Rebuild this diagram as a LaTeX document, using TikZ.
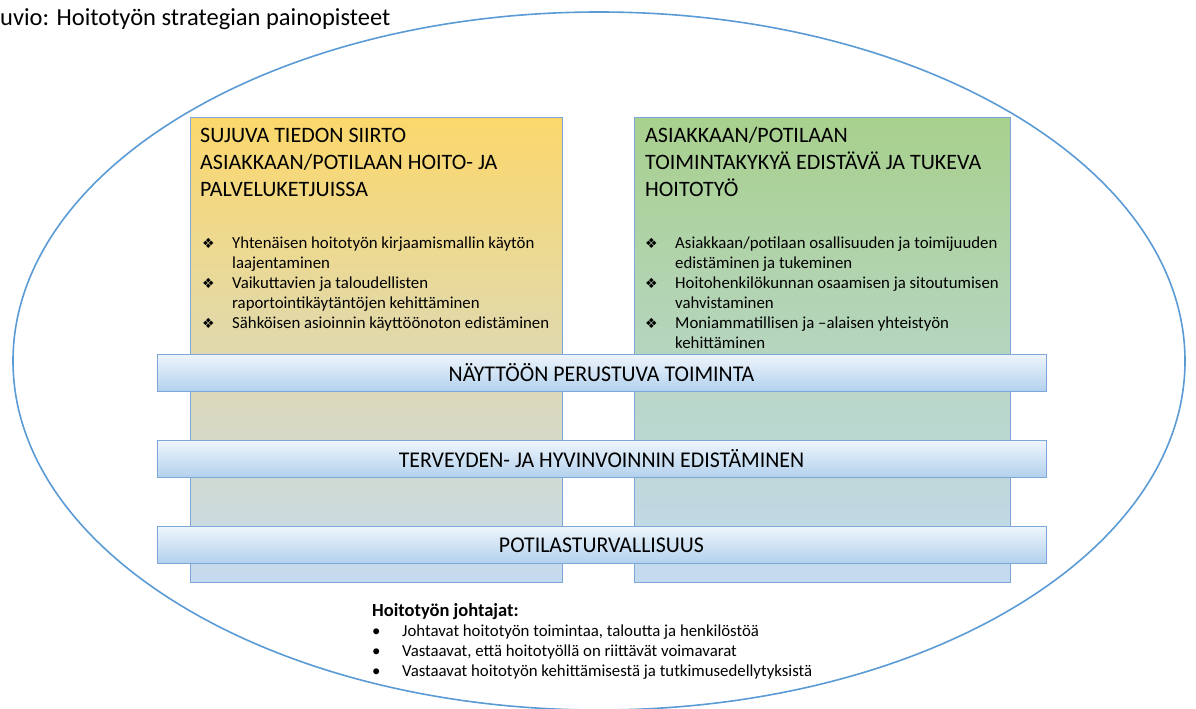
\documentclass[tikz,border=0pt]{standalone}
\usepackage{fontspec}
\setmainfont{Carlito}
\newfontfamily\symfont{DejaVu Sans}
\newfontfamily\bandfont[FakeStretch=0.97]{Carlito}
\usetikzlibrary{shapes.geometric}

\definecolor{rimblue}{HTML}{5B9BD5}
\definecolor{edgeblue}{HTML}{7DA7D9}
\definecolor{topyellow}{HTML}{FCD86C}
\definecolor{topgreen}{HTML}{A8D08D}
\definecolor{footblue}{HTML}{C4DAF0}
\definecolor{bandlight}{HTML}{EEF5FC}
\definecolor{banddeep}{HTML}{B2D0ED}

\newcommand{\dia}{{\symfont\fontsize{14}{20}\selectfont\char"2756}}

\tikzset{
  colbox/.style={draw=edgeblue, line width=0.9pt, anchor=north west,
    minimum height=465pt, inner sep=0pt, bottom color=footblue},
  band/.style={draw=edgeblue, line width=0.9pt, minimum width=889pt,
    minimum height=37pt, inner sep=0pt, top color=bandlight,
    bottom color=banddeep, font=\bandfont\fontsize{22.5}{22.5}\selectfont},
  headtext/.style={anchor=base west, inner sep=0pt,
    font=\fontsize{22}{27}\selectfont},
  itemtext/.style={anchor=base west, inner sep=0pt,
    font=\fontsize{16.8}{20}\selectfont}
}

\begin{document}
\begin{tikzpicture}[x=1pt,y=-1pt]
  \useasboundingbox (0,0) rectangle (1196,709);
  % outer ellipse
  \node[ellipse, draw=rimblue, line width=1.6pt, minimum width=1172pt,
    minimum height=698pt, inner sep=0pt] (frame) at (599,361) {};
  \node[anchor=base west, inner sep=0pt, font=\fontsize{24.5}{24.5}\selectfont]
    (title) at (0,26) {uvio: Hoitotyön strategian painopisteet};

  % the two columns
  \node[colbox, top color=topyellow, minimum width=372pt] (leftcol) at (190,117) {};
  \node[colbox, top color=topgreen, minimum width=376pt] (rightcol) at (634,117) {};

  \node[headtext] (lefthead) at (200,142) {%
    \begin{tabular}[t]{@{}l@{}}
      SUJUVA TIEDON SIIRTO\\
      ASIAKKAAN/POTILAAN HOITO- JA\\
      PALVELUKETJUISSA
    \end{tabular}};
  \node[headtext] (righthead) at (645,142) {%
    \begin{tabular}[t]{@{}l@{}}
      ASIAKKAAN/POTILAAN\\
      TOIMINTAKYKYÄ EDISTÄVÄ JA TUKEVA\\
      HOITOTYÖ
    \end{tabular}};

  \node[itemtext] (leftlist) at (202,248) {%
    \begin{tabular}[t]{@{}p{30pt}@{}l@{}}
      \dia & Yhtenäisen hoitotyön kirjaamismallin käytön\\
           & laajentaminen\\
      \dia & Vaikuttavien ja taloudellisten\\
           & raportointikäytäntöjen kehittäminen\\
      \dia & Sähköisen asioinnin käyttöönoton edistäminen
    \end{tabular}};
  \node[itemtext] (rightlist) at (645,248) {%
    \begin{tabular}[t]{@{}p{30pt}@{}l@{}}
      \dia & Asiakkaan/potilaan osallisuuden ja toimijuuden\\
           & edistäminen ja tukeminen\\
      \dia & Hoitohenkilökunnan osaamisen ja sitoutumisen\\
           & vahvistaminen\\
      \dia & Moniammatillisen ja –alaisen yhteistyön\\
           & kehittäminen
    \end{tabular}};

  % crossing bands
  \node[band] (evidence) at (601.5,373) {NÄYTTÖÖN PERUSTUVA TOIMINTA};
  \node[band] (health) at (601.5,459) {TERVEYDEN- JA HYVINVOINNIN EDISTÄMINEN};
  \node[band] (safety) at (601.5,545) {POTILASTURVALLISUUS};

  % leaders
  \node[itemtext] (leaders) at (372,616) {%
    \begin{tabular}[t]{@{}p{30pt}@{}l@{}}
      \multicolumn{2}{@{}l@{}}{\fontsize{18.5}{20}\selectfont\bfseries Hoitotyön johtajat:}\\
      \textbullet & Johtavat hoitotyön toimintaa, taloutta ja henkilöstöä\\
      \textbullet & Vastaavat, että hoitotyöllä on riittävät voimavarat\\
      \textbullet & Vastaavat hoitotyön kehittämisestä ja tutkimusedellytyksistä
    \end{tabular}};
\end{tikzpicture}
\end{document}
